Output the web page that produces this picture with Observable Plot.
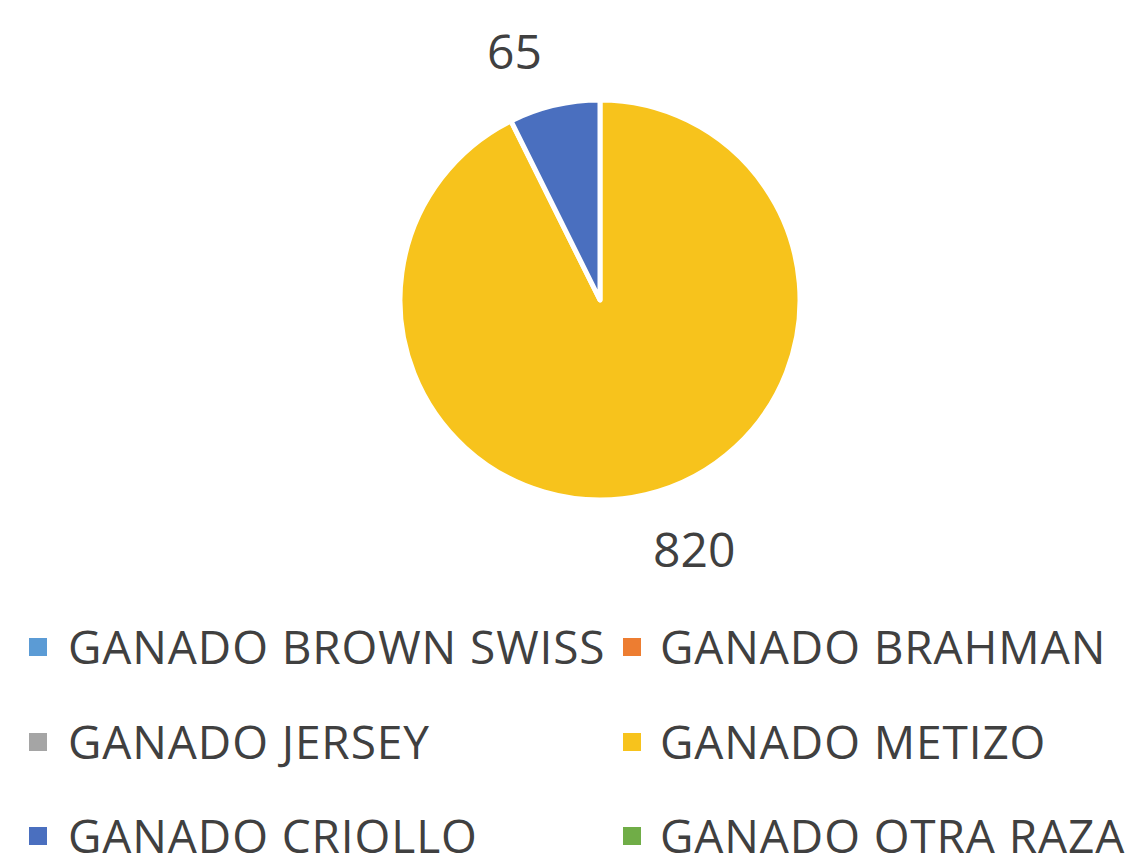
<!DOCTYPE html>
<html>
<head>
<meta charset="utf-8">
<script src="https://cdn.jsdelivr.net/npm/d3@7"></script>
<script src="https://cdn.jsdelivr.net/npm/@observablehq/plot@0.6"></script>
<style>
  html, body { margin: 0; padding: 0; background: #fff; }
  body { position: relative; width: 1125px; height: 868px; overflow: hidden; font-family: "Open Sans", sans-serif; }
  #legend { position: absolute; left: 0; top: 0; width: 1125px; height: 868px; color: #404040; pointer-events: none; }
  .item { position: absolute; font-size: 46px; line-height: 46px; height: 46px; white-space: nowrap; letter-spacing: 0.9px; }
  .sw { position: absolute; width: 18px; height: 18px; }
</style>
</head>
<body>
<div id="chart"></div>
<div id="legend"></div>
<script>
const categories = ["GANADO BROWN SWISS", "GANADO BRAHMAN", "GANADO JERSEY", "GANADO METIZO", "GANADO CRIOLLO", "GANADO OTRA RAZA"];
const values = [0, 0, 0, 820, 65, 0];
const colors = ["#5B9BD5", "#ED7D31", "#A5A5A5", "#F7C31C", "#4A6FBF", "#70AD47"];

const data = categories.map((c, i) => ({category: c, value: values[i]}));
const arcs = d3.pie().value(d => d.value).sort(null)(data);

const labels = arcs.filter(a => a.data.value > 0).map(a => {
  const mid = (a.startAngle + a.endAngle) / 2;
  return {
    value: a.data.value,
    x: Math.sin(mid) * 1.28,
    y: Math.cos(mid) * 1.28,
    side: Math.sin(mid) >= 0 ? 1 : -1
  };
});

function pieMark(index, scales, channelValues, dimensions, context) {
  const cx = scales.x(0), cy = scales.y(0);
  const r = scales.x(1) - scales.x(0);
  const arc = d3.arc().innerRadius(0).outerRadius(r);
  const g = d3.create("svg:g").attr("transform", `translate(${cx},${cy})`);
  g.selectAll("path")
    .data(arcs.filter(a => a.data.value > 0))
    .join("path")
    .attr("d", arc)
    .attr("fill", a => scales.color(a.data.category))
    .attr("stroke", "#fff")
    .attr("stroke-width", 5)
    .attr("stroke-linejoin", "round");
  return g.node();
}

const plot = Plot.plot({
  width: 1125,
  height: 600,
  margin: 0,
  x: {domain: [-1, 1], range: [400, 800], axis: null},
  y: {domain: [-1, 1], range: [500, 100], axis: null},
  color: {domain: categories, range: colors},
  style: {background: "#fff", fontFamily: "'Open Sans', sans-serif"},
  marks: [
    pieMark,
    Plot.text(labels.filter(d => d.side > 0), {x: "x", y: "y", text: d => String(d.value), fill: "#404040", fontSize: 48, textAnchor: "start", dx: -6, dy: 2}),
    Plot.text(labels.filter(d => d.side < 0), {x: "x", y: "y", text: d => String(d.value), fill: "#404040", fontSize: 48, textAnchor: "end", dx: 0, dy: 2})
  ]
});
document.getElementById("chart").appendChild(plot);

// Legend (two columns, row-wise order)
const legend = document.getElementById("legend");
const markerX = [29, 623];
const textX = [68, 660];
const rowY = [647, 742, 836];
categories.forEach((c, i) => {
  const col = i % 2, row = Math.floor(i / 2);
  const sw = document.createElement("div");
  sw.className = "sw";
  sw.style.left = markerX[col] + "px";
  sw.style.top = (rowY[row] - 9) + "px";
  sw.style.background = colors[i];
  legend.appendChild(sw);
  const tx = document.createElement("div");
  tx.className = "item";
  tx.style.left = textX[col] + "px";
  tx.style.top = (rowY[row] - 24) + "px";
  tx.textContent = c;
  legend.appendChild(tx);
});
</script>
</body>
</html>
